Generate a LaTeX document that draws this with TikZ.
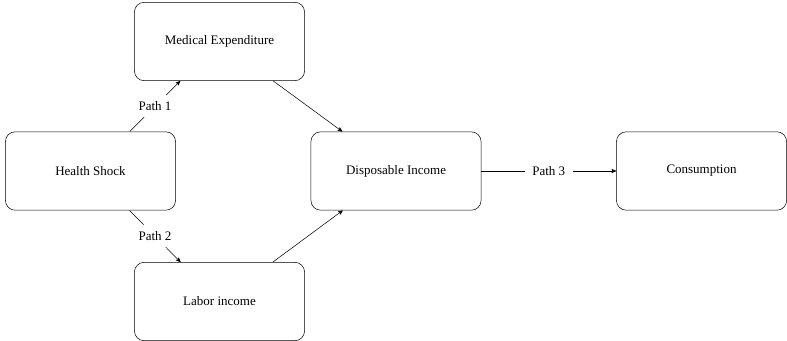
\documentclass[tikz,border=0pt]{standalone}
\usepackage{fontspec}
\setmainfont{Liberation Serif}
\usetikzlibrary{arrows, shapes, positioning}

\begin{document}
\begin{tikzpicture}[
	box/.style={draw, rounded corners=7.5pt, minimum width=4.6cm, minimum height=2.12cm},
	lbl/.style={fill=white, inner xsep=6pt, inner ysep=5pt},
	>=stealth']
			\useasboundingbox (0,0) rectangle (21.28,-9.22);
			\node[box] (shock) at (2.447,-4.624) {Health Shock};
			\node[box] (medical) at (5.935,-1.122) {Medical Expenditure};
			\node[box] (labor) at (5.935,-8.153) {Labor income};
			\node[box] (income) at (10.708,-4.624) {Disposable Income};
			\node[box] (consumption) at (18.969,-4.624) {Consumption};
			% paths
			\draw[->] (shock) -- node[lbl] {Path 1} (medical);
			\draw[->] (shock) -- node[lbl] {Path 2} (labor);
			\draw[->] (medical) -- (income);
			\draw[->] (labor) -- (income);
			\draw[->] (income) -- node[lbl] {Path 3} (consumption);
		\end{tikzpicture}
\end{document}
